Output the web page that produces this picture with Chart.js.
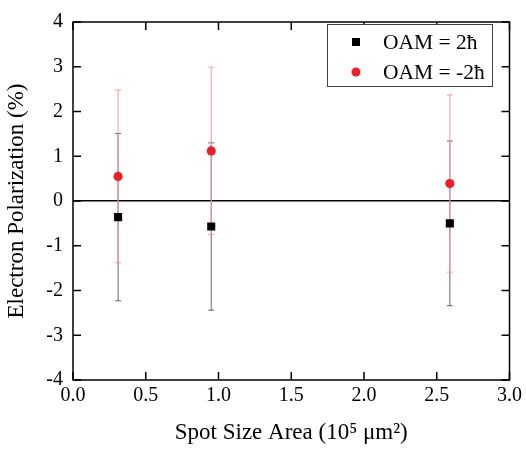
<!DOCTYPE html>
<html>
<head>
<meta charset="utf-8">
<script src="https://cdn.jsdelivr.net/npm/chart.js@4.4.1/dist/chart.umd.min.js"></script>
<style>
html,body{margin:0;padding:0;background:#fff;}
#wrap{width:526px;height:450px;}
</style>
</head>
<body>
<div id="wrap"><canvas id="c" width="526" height="450"></canvas></div>
<script>
// ---- data ----
const spotArea = [0.31, 0.95, 2.59];
const oamPlus2 = [-0.36, -0.57, -0.50];
const oamPlus2Err = [1.87, 1.87, 1.84];
const oamMinus2 = [0.55, 1.12, 0.39];
const oamMinus2Err = [1.93, 1.87, 1.98];
const seriesLabels = ['OAM = 2\u0127', 'OAM = -2\u0127'];
const xTitle = 'Spot Size Area (10\u2075 \u03bcm\u00b2)';
const yTitle = 'Electron Polarization (%)';

const FONT = "'Liberation Serif', 'DejaVu Serif', serif";

function pts(xs, ys) { return xs.map((x, i) => ({x: x, y: ys[i]})); }

const errorBars = {
  id: 'errorBars',
  beforeDatasetsDraw(chart) {
    const ctx = chart.ctx, xs = chart.scales.x, ys = chart.scales.y;
    chart.data.datasets.forEach(ds => {
      ctx.save();
      ctx.strokeStyle = ds.errColor;
      ctx.lineWidth = 1;
      ds.data.forEach((p, i) => {
        const e = ds.errors[i];
        const px = xs.getPixelForValue(p.x);
        const y1 = ys.getPixelForValue(p.y + e);
        const y2 = ys.getPixelForValue(p.y - e);
        ctx.beginPath();
        ctx.moveTo(px, y1); ctx.lineTo(px, y2);
        ctx.moveTo(px - 3, y1); ctx.lineTo(px + 3, y1);
        ctx.moveTo(px - 3, y2); ctx.lineTo(px + 3, y2);
        ctx.stroke();
      });
      ctx.restore();
    });
  }
};

const frame = {
  id: 'frame',
  afterDraw(chart) {
    const ctx = chart.ctx, a = chart.chartArea, xs = chart.scales.x, ys = chart.scales.y;
    ctx.save();
    ctx.strokeStyle = '#000';
    ctx.lineWidth = 1.5;
    ctx.strokeRect(a.left, a.top, a.right - a.left, a.bottom - a.top);
    const L = 8;
    ctx.beginPath();
    xs.ticks.forEach(t => {
      const px = xs.getPixelForValue(t.value);
      ctx.moveTo(px, a.bottom); ctx.lineTo(px, a.bottom - L);
      ctx.moveTo(px, a.top); ctx.lineTo(px, a.top + L);
    });
    ys.ticks.forEach(t => {
      const py = ys.getPixelForValue(t.value);
      ctx.moveTo(a.left, py); ctx.lineTo(a.left + L, py);
      ctx.moveTo(a.right, py); ctx.lineTo(a.right - L, py);
    });
    ctx.stroke();
    // legend
    const bx = 327, by = 24, bw = 165, bh = 62;
    ctx.fillStyle = '#fff';
    ctx.fillRect(bx, by, bw, bh);
    ctx.lineWidth = 1;
    ctx.strokeStyle = '#444';
    ctx.strokeRect(bx + 0.5, by + 0.5, bw, bh);
    ctx.font = "21.5px " + FONT;
    ctx.textBaseline = 'middle';
    ctx.textAlign = 'left';
    chart.data.datasets.forEach((ds, i) => {
      const cy = by + 18 + i * 30;
      ctx.fillStyle = ds.backgroundColor;
      if (ds.pointStyle === 'rect') {
        ctx.fillRect(356 - 4, cy - 4, 8, 8);
      } else {
        ctx.beginPath(); ctx.arc(356, cy, 4.5, 0, Math.PI * 2); ctx.fill();
      }
      ctx.fillStyle = '#000';
      ctx.fillText(ds.label, 383, cy + 1);
    });
    ctx.restore();
  }
};

new Chart(document.getElementById('c'), {
  type: 'scatter',
  data: {
    datasets: [
      { label: seriesLabels[0], data: pts(spotArea, oamPlus2), errors: oamPlus2Err,
        errColor: '#666666', pointStyle: 'rect', pointRadius: 5.7, pointHoverRadius: 5.7,
        backgroundColor: '#000000', borderColor: '#000000', borderWidth: 0 },
      { label: seriesLabels[1], data: pts(spotArea, oamMinus2), errors: oamMinus2Err,
        errColor: '#f59a9a', pointStyle: 'circle', pointRadius: 4.6, pointHoverRadius: 4.6,
        backgroundColor: '#e8212b', borderColor: '#e8212b', borderWidth: 0 }
    ]
  },
  options: {
    responsive: false,
    animation: false,
    events: [],
    layout: { padding: { top: 14, right: 14, left: 0, bottom: 0 } },
    plugins: { legend: { display: false }, tooltip: { enabled: false } },
    scales: {
      x: {
        type: 'linear', min: 0, max: 3,
        afterFit: s => { s.height = 70; },
        border: { display: false },
        grid: { display: false, drawTicks: false },
        ticks: { stepSize: 0.5, padding: 4, color: '#000', font: { family: FONT, size: 20 },
                 callback: v => v.toFixed(1), maxRotation: 0 },
        title: { display: true, text: xTitle, color: '#000', font: { family: FONT, size: 23 },
                 padding: { top: 0, bottom: 3 } }
      },
      y: {
        type: 'linear', min: -4, max: 4,
        afterFit: s => { s.width = 73; },
        border: { display: false },
        grid: { drawTicks: false, lineWidth: 1.5,
                color: c => (c.tick && c.tick.value === 0) ? '#000' : 'rgba(0,0,0,0)' },
        ticks: { stepSize: 1, padding: 10, color: '#000', font: { family: FONT, size: 20 },
                 callback: v => String(v) },
        title: { display: true, text: yTitle, color: '#000', font: { family: FONT, size: 23 },
                 padding: { top: 3, bottom: 0 } }
      }
    }
  },
  plugins: [errorBars, frame]
});
</script>
</body>
</html>
